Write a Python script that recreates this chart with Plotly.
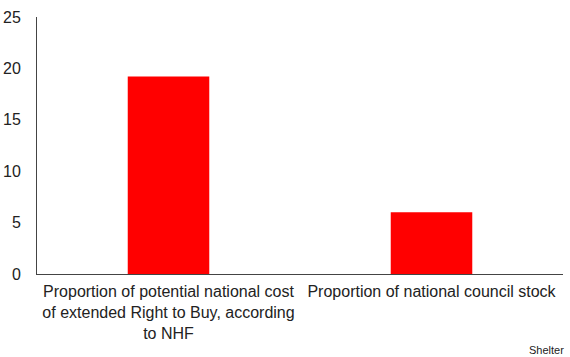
import plotly.graph_objects as go

categories = ["Proportion of potential national cost<br>of extended Right to Buy, according<br>to NHF",
              "Proportion of national council stock"]
values = [19.2, 6.0]
y_ticks = [0, 5, 10, 15, 20, 25]

fig = go.Figure()
fig.add_trace(go.Bar(x=categories, y=values, marker_color="#ff0000", width=0.31,
                     marker_line_width=0))
fig.update_layout(
    width=570, height=357,
    margin=dict(l=37, r=7, t=17, b=83),
    paper_bgcolor="white", plot_bgcolor="white",
    font=dict(family="Liberation Sans, Arial, sans-serif", size=16, color="#222"),
    showlegend=False,
    xaxis=dict(showline=True, linecolor="#444", linewidth=1, ticks="", showgrid=False,
               automargin=False, ticklabelstandoff=3, tickfont=dict(size=16, color="#222")),
    yaxis=dict(range=[0, 25], tickvals=y_ticks, showline=True, linecolor="#444", linewidth=1,
               ticks="", showgrid=False, zeroline=False, ticklabelstandoff=12,
               automargin=False, tickfont=dict(size=16, color="#222")),
)
fig.add_annotation(text="Shelter", xref="paper", yref="paper", x=1.005, y=-0.296,
                   xanchor="right", yanchor="middle", showarrow=False,
                   font=dict(size=11, color="#222"))
fig.write_html("out.html")
